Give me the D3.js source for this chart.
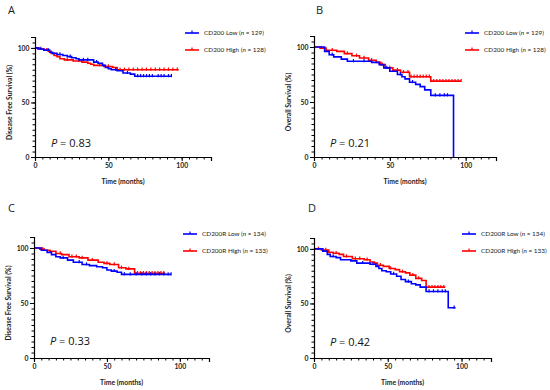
<!DOCTYPE html>
<html><head><meta charset="utf-8">
<script src="https://cdn.jsdelivr.net/npm/d3@7"></script>
<style>body{margin:0;background:#fff}svg{display:block}</style>
</head><body>
<svg id="c" width="550" height="390"></svg>
<script>
// ---------- DATA ----------
const aLowT = [0,2,6,10,12,15,19,22,25,28,30,40,43,46,48,50,52,56,60,65,68];
const aLowS = [100,99,98,96,95,94,93,92,91,90,89,87,86,84,82,81,80,79,77,76,74];
const aLowEnd = 93;
const aLowCens = [4,9,17,24,33,36,42,55,63,70,72,74,76,78,80,84,86,88,91,93];
const aHighT = [0,3,6,9,11,13,15,17,20,26,32,36,38,40,47,53,56];
const aHighS = [100,99,98,97,95,93,92,90,89,88,87,86,85,84,83,82,80];
const aHighEnd = 98;
const aHighCens = [8,22,30,44,50,58,61,64,67,70,73,76,79,82,85,88,91,94,97];

const bLowT = [0,7,10,13,18,22,38,43,46,50,55,58,60,63,67,70,73,77,92];
const bLowS = [100,96,93,91,89,87,86,84,81,78,75,73,71,68,66,64,61,56,0];
const bLowEnd = 92;
const bLowCens = [12,26,33,48,57,65,80,83,86,88];
const bHighT = [0,4,8,15,20,25,30,36,41,44,47,52,57,63,77];
const bHighS = [100,99,97,96,94,92,90,88,86,84,81,79,77,73,69];
const bHighEnd = 97;
const bHighCens = [5,12,22,28,33,38,45,50,55,59,62,64,66,68,70,72,74,76,79,81,83,85,87,89,91,93,95,97];

const cLowT = [0,5,9,12,15,18,23,27,33,38,43,47,50,53,57,60];
const cLowS = [100,98,96,94,92,91,89,87,85,84,83,82,80,79,78,76];
const cLowEnd = 94;
const cLowCens = [20,31,36,55,62,66,70,74,77,80,83,86,89,92,94];
const cHighT = [0,4,7,11,15,19,24,31,37,44,48,52,58,63,69];
const cHighS = [100,99,98,97,95,94,92,91,89,87,86,85,82,81,77];
const cHighEnd = 90;
const cHighCens = [6,18,26,29,33,40,50,55,60,65,71,73,75,77,79,81,83,85,87,89];

const dLowT = [0,6,9,11,15,18,25,29,38,42,44,46,49,52,56,59,62,66,69,72,76,91];
const dLowS = [100,98,95,93,92,90,89,87,86,84,82,80,79,77,75,72,70,68,67,65,61,46];
const dLowEnd = 96;
const dLowCens = [13,33,40,54,64,78,81,84,87,89,95];
const dHighT = [0,5,10,13,17,20,26,34,38,41,43,47,51,55,58,62,65,69,73,76];
const dHighS = [100,99,97,96,95,93,91,90,88,87,85,84,82,81,79,78,76,73,71,65];
const dHighEnd = 89;
const dHighCens = [3,8,15,22,28,31,36,45,52,60,67,71,78,80,82,84,86,88];

const panelLetters = ["A","B","C","D"];
const yTitles = ["Disease Free Survival (%)","Overall Survival (%)","Disease Free Survival (%)","Overall Survival (%)"];
const xTitle = "Time (months)";
const lowNames = ["CD200 Low","CD200 Low","CD200R Low","CD200R Low"];
const highNames = ["CD200 High","CD200 High","CD200R High","CD200R High"];
const lowN = [129,129,134,134];
const highN = [128,128,133,133];
const pValues = ["0.83","0.21","0.33","0.42"];
const xTicks = [0,50,100];
const yTicks = [0,50,100];

// ---------- LAYOUT ----------
const layout = [
  {l:35, r:211, b:157, t:37, lx:185, ly:33, px:51, py:147, lab:[8,14]},
  {l:314, r:496, b:157, t:36, lx:465, ly:33, px:330, py:147, lab:[316,14]},
  {l:34, r:209, b:358, t:237, lx:183, ly:234, px:50, py:345, lab:[8,212]},
  {l:314, r:491, b:358, t:238, lx:462, ly:234, px:330, py:346, lab:[308,212]}
];
const series = [
  [{t:aLowT,s:aLowS,e:aLowEnd,c:aLowCens},{t:aHighT,s:aHighS,e:aHighEnd,c:aHighCens}],
  [{t:bLowT,s:bLowS,e:bLowEnd,c:bLowCens},{t:bHighT,s:bHighS,e:bHighEnd,c:bHighCens}],
  [{t:cLowT,s:cLowS,e:cLowEnd,c:cLowCens},{t:cHighT,s:cHighS,e:cHighEnd,c:cHighCens}],
  [{t:dLowT,s:dLowS,e:dLowEnd,c:dLowCens},{t:dHighT,s:dHighS,e:dHighEnd,c:dHighCens}]
];
const colors = ["#0000ff","#ff0000"];
const FONT = "Lato, 'Open Sans', sans-serif";
const PFONT = "'Open Sans', Lato, sans-serif";

const svg = d3.select("#c");

layout.forEach((L, i) => {
  const g = svg.append("g");
  const x = d3.scaleLinear().domain([0,120]).range([L.l, L.r]);
  const y = d3.scaleLinear().domain([0,110]).range([L.b, L.t]);

  g.append("text").attr("x", L.lab[0]).attr("y", L.lab[1])
    .attr("font-family", PFONT).attr("font-size", 11).attr("fill","#222").text(panelLetters[i]);

  [1,0].forEach(k => {
    const S = series[i][k];
    const pts = S.t.map((t,j) => [t, S.s[j]]);
    pts.push([S.e, S.s[S.s.length-1]]);
    const line = d3.line().x(d => x(d[0])).y(d => y(d[1])).curve(d3.curveStepAfter);
    g.append("path").attr("d", line(pts)).attr("fill","none")
      .attr("stroke", colors[k]).attr("stroke-width", 1.6);
    const valAt = t => { let v = S.s[0]; for (let j=0;j<S.t.length;j++){ if (S.t[j] <= t) v = S.s[j]; } return v; };
    g.selectAll(null).data(S.c).enter().append("line")
      .attr("x1", d => x(d)).attr("x2", d => x(d))
      .attr("y1", d => y(valAt(d)) - 2.2).attr("y2", d => y(valAt(d)) + 1)
      .attr("stroke", colors[k]).attr("stroke-width", 1.2);
  });

  const xMinor = d3.range(0, 121, 5);
  const yMinor = d3.range(0, 111, 5);
  const xa = g.append("g").attr("transform", `translate(0,${L.b})`)
    .call(d3.axisBottom(x).tickValues(xMinor).tickSize(2.5).tickFormat(""));
  xa.select(".domain").remove();
  g.append("g").attr("transform", `translate(0,${L.b})`)
    .call(d3.axisBottom(x).tickValues(xTicks).tickSize(4).tickPadding(2))
    .call(a => a.select(".domain").attr("stroke-width",1.2))
    .selectAll("text").attr("font-family", FONT).attr("font-size", 6.8).attr("font-weight","bold").attr("fill","#222");
  const ya = g.append("g").attr("transform", `translate(${L.l},0)`)
    .call(d3.axisLeft(y).tickValues(yMinor).tickSize(2.5).tickFormat(""));
  ya.select(".domain").remove();
  g.append("g").attr("transform", `translate(${L.l},0)`)
    .call(d3.axisLeft(y).tickValues(yTicks).tickSize(4).tickPadding(1.5))
    .call(a => a.select(".domain").attr("stroke-width",1.2))
    .selectAll("text").attr("font-family", FONT).attr("font-size", 6.8).attr("font-weight","bold").attr("fill","#222");
  g.selectAll(".tick line").attr("stroke","#000");

  g.append("text").attr("x", (L.l + L.r)/2).attr("y", L.b + 27)
    .attr("text-anchor","middle").attr("font-family", FONT).attr("font-size", 6.8)
    .attr("font-weight","bold").attr("fill","#222").text(xTitle);
  g.append("text").attr("transform", `translate(${L.l - 23},${y(50)}) rotate(-90)`)
    .attr("text-anchor","middle").attr("font-family", FONT).attr("font-size", 6.8)
    .attr("font-weight","bold").attr("fill","#222").text(yTitles[i]);

  const pt = g.append("text").attr("x", L.px).attr("y", L.py)
    .attr("font-family", PFONT).attr("font-size", 11).attr("fill","#111");
  pt.append("tspan").attr("font-style","italic").text("P");
  pt.append("tspan").text(" = " + pValues[i]);

  [[lowNames[i], lowN[i]], [highNames[i], highN[i]]].forEach((d, k) => {
    const yy = L.ly + k*17;
    g.append("line").attr("x1", L.lx).attr("x2", L.lx + 14).attr("y1", yy).attr("y2", yy)
      .attr("stroke", colors[k]).attr("stroke-width", 1.6);
    g.append("line").attr("x1", L.lx + 7).attr("x2", L.lx + 7).attr("y1", yy - 2.5).attr("y2", yy)
      .attr("stroke", colors[k]).attr("stroke-width", 1.2);
    const tx = g.append("text").attr("x", L.lx + 19).attr("y", yy + 2.3)
      .attr("font-family", FONT).attr("font-size", 6.4).attr("fill","#222");
    tx.append("tspan").text(d[0] + " (");
    tx.append("tspan").attr("font-style","italic").text("n");
    tx.append("tspan").text(" = " + d[1] + ")");
  });
});
</script>
</body></html>
